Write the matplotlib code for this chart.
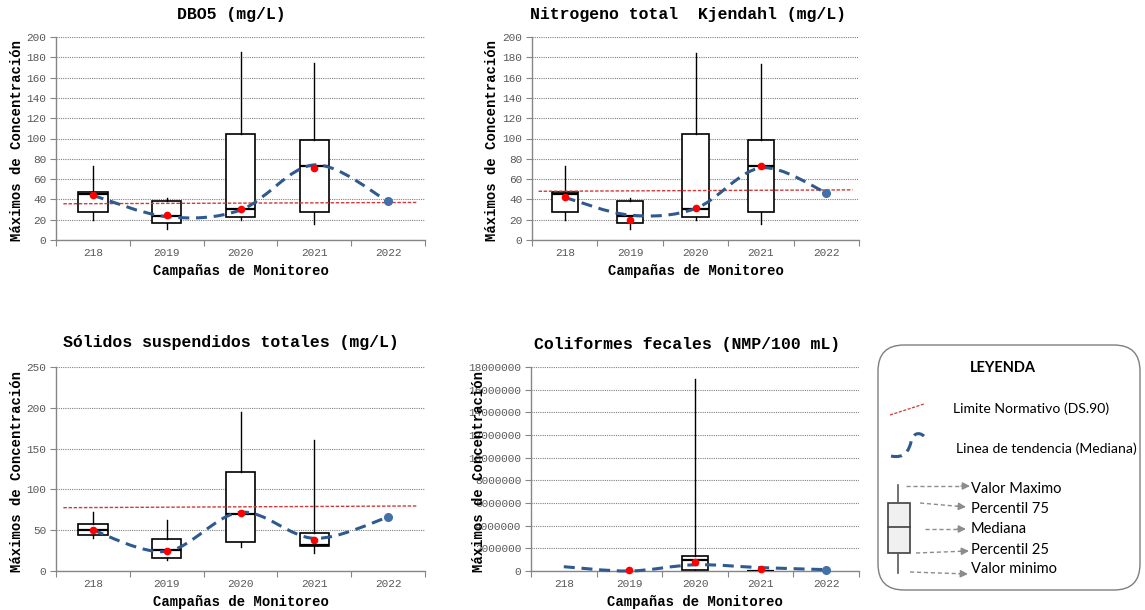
import numpy as np
import matplotlib.pyplot as plt
from matplotlib.path import Path
from matplotlib.patches import PathPatch, FancyBboxPatch, Rectangle
from matplotlib.ticker import MultipleLocator, FuncFormatter

campanas = ['218', '2019', '2020', '2021', '2022']

# DBO5 (mg/L): estadisticos por campaña (2022 sin caja)
dbo_min = [19.5, 11.0, 19.5, 15.5]
dbo_q1 = [27.5, 16.5, 22.5, 27.5]
dbo_med = [45.0, 23.5, 31.0, 73.0]
dbo_q3 = [47.5, 38.0, 104.0, 99.0]
dbo_max = [73.0, 41.0, 185.0, 174.0]
dbo_media = [44.5, 24.5, 30.5, 70.5]
dbo_tendencia = [44.0, 23.0, 29.5, 74.0, 38.0]
dbo_limite = [35.7, 37.0]

# Nitrogeno total Kjendahl (mg/L)
ntk_min = [19.5, 11.0, 19.5, 15.5]
ntk_q1 = [27.5, 16.5, 22.5, 27.5]
ntk_med = [45.0, 23.5, 31.0, 73.0]
ntk_q3 = [47.5, 38.0, 104.0, 99.0]
ntk_max = [73.0, 41.0, 184.0, 173.5]
ntk_media = [42.5, 20.0, 32.0, 73.0]
ntk_tendencia = [42.0, 24.5, 31.0, 71.0, 46.5]
ntk_limite = [48.0, 49.4]

# Solidos suspendidos totales (mg/L)
sst_min = [41.0, 14.0, 30.0, 22.0]
sst_q1 = [44.0, 16.0, 35.0, 31.0]
sst_med = [50.0, 25.5, 70.0, 32.0]
sst_q3 = [57.0, 39.0, 121.0, 47.0]
sst_max = [72.0, 62.0, 195.0, 161.0]
sst_media = [50.5, 24.5, 71.5, 37.5]
sst_tendencia = [50.0, 24.0, 72.0, 40.0, 66.0]
sst_limite = [77.6, 79.7]

# Coliformes fecales (NMP/100 mL)
col_min = [None, None, 0, 0]
col_q1 = [None, None, 60000, 0]
col_med = [None, None, 940000, 10000]
col_q3 = [None, None, 1350000, 30000]
col_max = [None, None, 16950000, 60000]
col_media = [None, 80000, 770000, 150000]
col_tendencia = [380000, 0, 550000, 300000, 120000]
col_limite = None

W, H = 1145, 610
MONO = 'Liberation Mono'
AZUL = '#2f5a8f'
GRIS = '#868686'

plt.rcParams['font.family'] = MONO

fig = plt.figure(figsize=(W / 100, H / 100), dpi=100)

# capa de fondo en pixeles para la leyenda
leg = fig.add_axes([0, 0, 1, 1])
leg.set_xlim(0, W)
leg.set_ylim(H, 0)
leg.axis('off')


def caja_px(l, t, r, b):
    return [l / W, 1 - b / H, (r - l) / W, (b - t) / H]


def tendencia_path(xs, ys):
    # curva suavizada tipo Catmull-Rom expresada como Bezier cubica
    xs = np.asarray(xs, float)
    ys = np.asarray(ys, float)
    pts = np.column_stack([xs, ys])
    n = len(pts)
    verts = [pts[0]]
    codes = [Path.MOVETO]
    for i in range(n - 1):
        p0 = pts[max(i - 1, 0)]
        p1 = pts[i]
        p2 = pts[i + 1]
        p3 = pts[min(i + 2, n - 1)]
        c1 = p1 + (p2 - p0) / 6.0
        c2 = p2 - (p3 - p1) / 6.0
        verts += [c1, c2, p2]
        codes += [Path.CURVE4] * 3
    return Path(verts, codes)


def panel(rect, titulo, titulo_xy, ymax, paso, stats, media, tend, limite,
          ylab_x, formato=None):
    ax = fig.add_axes(caja_px(*rect))
    x = np.arange(len(campanas))

    mn, q1, md, q3, mx = stats
    bstats, pos = [], []
    for i in range(len(md)):
        if md[i] is None:
            continue
        bstats.append(dict(med=md[i], q1=q1[i], q3=q3[i], whislo=mn[i],
                           whishi=mx[i], fliers=[]))
        pos.append(x[i])
    ax.bxp(bstats, positions=pos, widths=0.4, showcaps=False,
           showfliers=False, patch_artist=True,
           boxprops=dict(facecolor='white', edgecolor='black', linewidth=1.2),
           medianprops=dict(color='black', linewidth=1.6),
           whiskerprops=dict(color='black', linewidth=1.0), zorder=3)

    if limite is not None:
        ax.plot([-0.4, 4.4], limite, color='#d03a3a', lw=1.0,
                linestyle=(0, (2.5, 1.2)), zorder=4)

    ax.add_patch(PathPatch(tendencia_path(x, tend), fill=False,
                           edgecolor=AZUL, lw=2.2,
                           linestyle=(0, (3.6, 2.2)),
                           zorder=5, clip_on=False))
    ax.plot(x[-1], tend[-1], 'o', color='#4470a8', ms=5.5, zorder=6,
            clip_on=False)

    mx_i = [i for i in range(len(media)) if media[i] is not None]
    ax.plot([x[i] for i in mx_i], [media[i] for i in mx_i], 'o', color='red',
            ms=4.5, zorder=7, clip_on=False)

    ax.set_xlim(-0.5, len(campanas) - 0.5)
    ax.set_ylim(0, ymax)
    ax.yaxis.set_major_locator(MultipleLocator(paso))
    if formato:
        ax.yaxis.set_major_formatter(FuncFormatter(formato))
    ax.set_xticks(np.arange(-0.5, len(campanas)), [''] * (len(campanas) + 1))
    ax.set_xticks(x, campanas, minor=True)
    ax.tick_params(axis='x', which='major', length=4, color=GRIS)
    ax.tick_params(axis='x', which='minor', length=0, pad=6,
                   labelsize=8, labelcolor='#595959')
    ax.tick_params(axis='y', length=4, color=GRIS, pad=3, labelsize=8,
                   labelcolor='#595959')
    for s in ('top', 'right'):
        ax.spines[s].set_visible(False)
    for s in ('left', 'bottom'):
        ax.spines[s].set_color(GRIS)
        ax.spines[s].set_linewidth(1.0)
    ax.yaxis.grid(True, color='#808080', lw=0.8, linestyle=(0, (1, 1)))
    ax.set_axisbelow(True)

    ax.set_xlabel('Campañas de Monitoreo', fontsize=10, fontweight='bold')
    ax.xaxis.set_label_coords(0.5, -0.12)
    ax.set_ylabel('Máximos de Concentración', fontsize=10, fontweight='bold')
    ax.yaxis.set_label_coords(ylab_x, 0.49)

    fig.text(titulo_xy[0] / W, 1 - titulo_xy[1] / H, titulo, fontsize=11.9,
             fontweight='bold', ha='center', va='center')
    return ax


panel((56, 37, 425, 240), 'DBO5 (mg/L)', (231, 14), 200, 20,
      (dbo_min, dbo_q1, dbo_med, dbo_q3, dbo_max), dbo_media, dbo_tendencia,
      dbo_limite, -0.087)
panel((532, 37, 859, 240), 'Nitrogeno total  Kjendahl (mg/L)', (688, 14),
      200, 20, (ntk_min, ntk_q1, ntk_med, ntk_q3, ntk_max), ntk_media,
      ntk_tendencia, ntk_limite, -0.100)
panel((56, 367, 425, 571), 'Sólidos suspendidos totales (mg/L)', (231, 343),
      250, 50, (sst_min, sst_q1, sst_med, sst_q3, sst_max), sst_media,
      sst_tendencia, sst_limite, -0.087)
panel((531, 367, 859, 571), 'Coliformes fecales (NMP/100 mL)', (687, 344),
      18000000, 2000000, (col_min, col_q1, col_med, col_q3, col_max),
      col_media, col_tendencia, col_limite, -0.138,
      formato=lambda v, p: '%d' % v)

# ---- leyenda dibujada a mano ----
SANS = 'Lato'
leg.add_patch(FancyBboxPatch((878, 345), 262, 245,
                             boxstyle='round,pad=0,rounding_size=26',
                             facecolor='white', edgecolor='#7f7f7f', lw=1.0))
leg.text(1003, 368, 'LEYENDA', family=SANS, fontsize=10.5, fontweight='bold',
         ha='center', va='center')

leg.plot([890, 924], [415, 404], color='#d03a3a', lw=0.9,
         linestyle=(0, (2.5, 1.2)))
leg.text(953, 409, 'Limite Normativo (DS.90)', family=SANS, fontsize=10.1,
         va='center')

arco = Path([(891, 456), (905, 459), (909, 450), (911, 442),
             (912, 435), (918, 430), (925, 437)],
            [Path.MOVETO] + [Path.CURVE4] * 6)
leg.add_patch(PathPatch(arco, fill=False, edgecolor=AZUL, lw=2.2,
                        linestyle=(0, (3.6, 2.2))))
leg.text(956, 449, 'Linea de tendencia (Mediana)', family=SANS,
         fontsize=10.1, va='center')

leg.plot([898, 898], [485, 503], color='#595959', lw=1.2)
leg.plot([898, 898], [553, 573], color='#595959', lw=1.2)
leg.add_patch(Rectangle((888, 503), 22, 50, facecolor='#f0f0f0',
                        edgecolor='#404040', lw=1.2))
leg.plot([888, 910], [527, 527], color='#404040', lw=1.2)

flechas = [((906, 486), (970, 486), 'Valor Maximo', 489),
           ((920, 503), (966, 507), 'Percentil 75', 509),
           ((925, 529), (966, 529), 'Mediana', 529),
           ((916, 553), (969, 551), 'Percentil 25', 550),
           ((910, 572), (968, 574), 'Valor minimo', 569)]
for (x0, y0), (x1, y1), txt, ty in flechas:
    leg.plot([x0, x1 - 8], [y0, y1 - (y1 - y0) * 8 / (x1 - x0)],
             color='#8c8c8c', lw=1.0, linestyle=(0, (3, 2)))
    leg.annotate('', xy=(x1, y1), xytext=(x1 - 9, y1 - (y1 - y0) * 9 / (x1 - x0)),
                 arrowprops=dict(arrowstyle='-|>', color='#8c8c8c', lw=1.0,
                                 mutation_scale=11, shrinkA=0, shrinkB=0))
    leg.text(971, ty, txt, family=SANS, fontsize=10.5, va='center')

fig.savefig('out.png', dpi=100)
